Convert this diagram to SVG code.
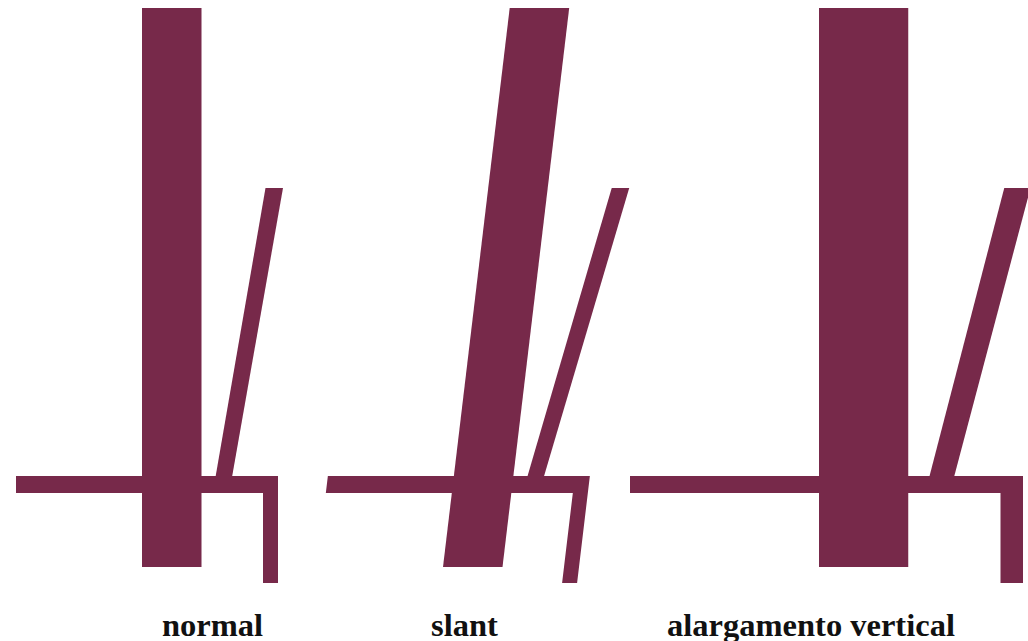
<svg xmlns="http://www.w3.org/2000/svg" width="1028" height="641" viewBox="0 0 1028 641">
  <style>
    .ink { fill: #77294a; }
    .lbl { font-family: "Liberation Serif", "Times New Roman", serif; font-weight: bold; font-size: 32.5px; fill: #111111; text-anchor: middle; }
  </style>
  <defs>
    <g id="shape">
      <rect class="ink" x="142" y="8" width="59.5" height="559"/>
      <polygon class="ink" points="16,476 278,476 278,583 263,583 263,493 16,493"/>
      <polygon class="ink" points="265.5,188 283,188 231.5,480 215,480"/>
    </g>
  </defs>
  <rect x="0" y="0" width="1028" height="641" fill="#ffffff"/>
  <g id="normal">
    <use href="#shape"/>
    <text class="lbl" x="212.5" y="636">normal</text>
  </g>
  <g id="slant">
    <use href="#shape" transform="matrix(1 0 -0.1193 1 368.65 0)"/>
    <text class="lbl" x="464.5" y="636">slant</text>
  </g>
  <g id="vertical-stretch">
    <use href="#shape" transform="matrix(1.5 0 0 1 606 0)"/>
    <text class="lbl" x="811" y="636">alargamento vertical</text>
  </g>
</svg>
